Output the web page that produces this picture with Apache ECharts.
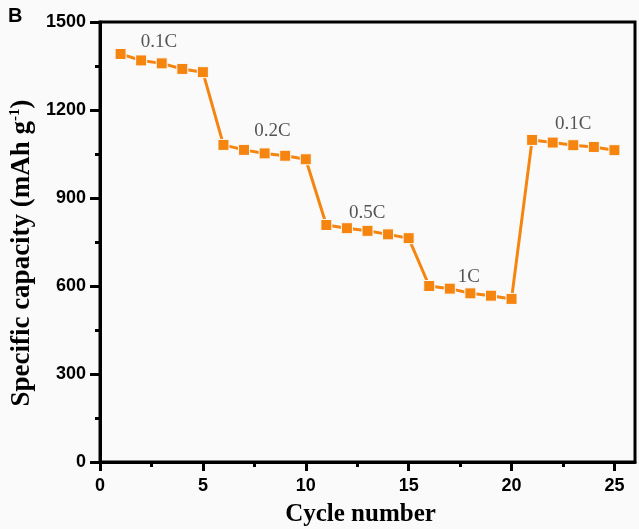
<!DOCTYPE html>
<html><head><meta charset="utf-8">
<script src="https://cdn.jsdelivr.net/npm/echarts@6/dist/echarts.min.js"></script>
<style>html,body{margin:0;padding:0;background:#fafafa}#c{width:639px;height:529px}</style>
</head><body><div id="c"></div>
<script>
const cycles = [1,2,3,4,5,6,7,8,9,10,11,12,13,14,15,16,17,18,19,20,21,22,23,24,25];
const capacity = [1391,1369,1359,1340,1329,1081,1064,1052,1044,1032,808,797,788,776,763,600,591,575,567,556,1098,1089,1080,1074,1063];
const rateLabels = ['0.1C','0.2C','0.5C','1C','0.1C'];
const rateLabelX = [2.86,8.38,12.98,17.93,23.0];
const rateLabelY = [1432,1128,849,631,1152];
const xTicks = [0,5,10,15,20,25];

const chart = echarts.init(document.getElementById('c'));
const serif = '"Liberation Serif","Times New Roman",serif';
const sans = '"Liberation Sans",Arial,sans-serif';
chart.setOption({
  backgroundColor:'#fafafa',
  animation:false,
  grid:{left:100,right:4,top:22,bottom:67,outerBoundsMode:'none',containLabel:false,show:true,borderColor:'#000',borderWidth:3,backgroundColor:'#fafafa'},
  graphic:[{type:'text',left:8,top:6,style:{text:'B',font:'bold 20px '+sans,fill:'#000'}}],
  xAxis:{type:'value',min:0,max:26,interval:5,
    name:'Cycle number',nameLocation:'middle',nameGap:40,
    nameTextStyle:{fontFamily:serif,fontWeight:'bold',fontSize:25,color:'#000',padding:[0,14,0,0]},
    axisLine:{show:true,lineStyle:{color:'#000',width:3}},
    axisTick:{show:true,inside:false,length:9,lineStyle:{color:'#000',width:3},customValues:xTicks},
    minorTick:{show:true,splitNumber:2,length:5,lineStyle:{color:'#000',width:3}},
    axisLabel:{fontFamily:sans,fontWeight:'bold',fontSize:18,color:'#000',margin:15,customValues:xTicks},
    splitLine:{show:false}},
  yAxis:{type:'value',min:0,max:1500,interval:300,
    name:'Specific capacity (mAh g{sup|-1})',nameLocation:'middle',nameGap:60,nameRotate:90,
    nameTextStyle:{fontFamily:serif,fontWeight:'bold',fontSize:27,color:'#000',padding:[0,22,0,0],
      rich:{sup:{fontFamily:serif,fontWeight:'bold',fontSize:15,verticalAlign:'top',padding:[0,0,10,0],color:'#000'}}},
    axisLine:{show:true,lineStyle:{color:'#000',width:3}},
    axisTick:{show:true,inside:false,length:10,lineStyle:{color:'#000',width:3}},
    minorTick:{show:true,splitNumber:2,length:5,lineStyle:{color:'#000',width:3}},
    axisLabel:{fontFamily:sans,fontWeight:'bold',fontSize:18,color:'#000',margin:14,formatter:v=>String(v)},
    splitLine:{show:false}},
  series:[
    {type:'line',data:cycles.map((c,i)=>[c,capacity[i]]),
     symbol:'rect',symbolSize:11,showSymbol:true,
     itemStyle:{color:'#f5850f',borderColor:'#fafafa',borderWidth:1},
     lineStyle:{color:'#f5850f',width:3}},
    {type:'scatter',symbolSize:0,silent:true,
     data:rateLabels.map((t,i)=>({value:[rateLabelX[i],rateLabelY[i]],name:t})),
     label:{show:true,position:'inside',formatter:p=>p.name,fontFamily:serif,fontSize:19,color:'#2a2a2a'}}
  ]
});
</script></body></html>
